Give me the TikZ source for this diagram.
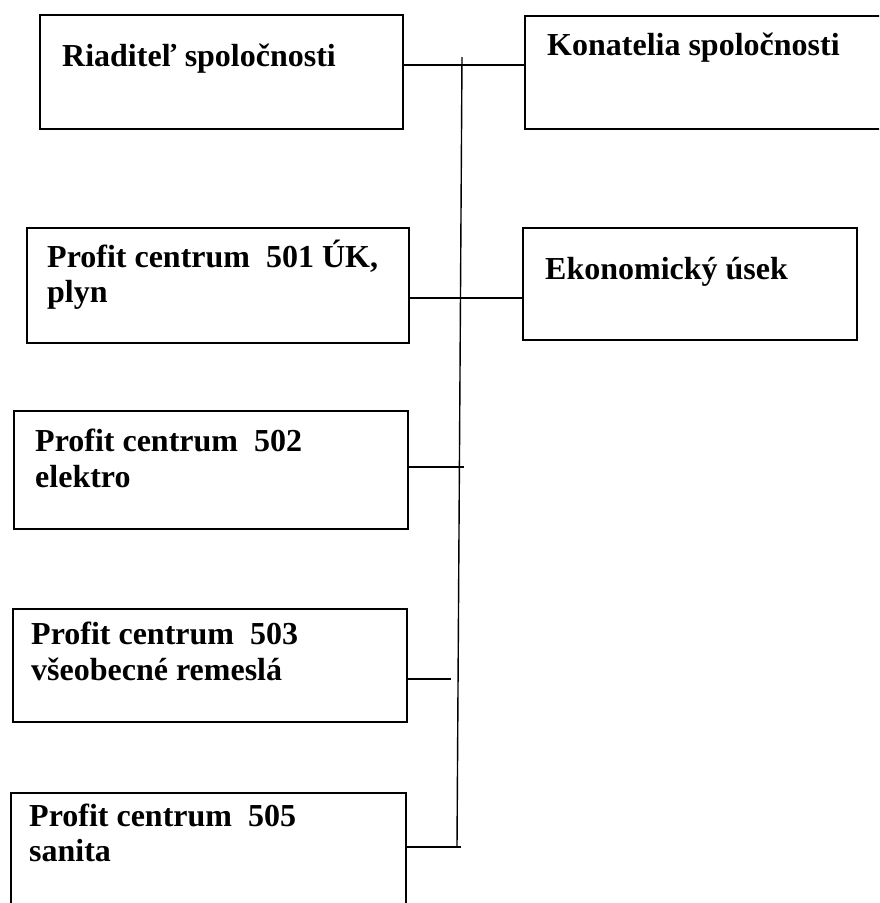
\documentclass[tikz,border=0pt]{standalone}
\usepackage{fontspec}
\setmainfont{Liberation Serif}
\begin{document}
\begin{tikzpicture}[x=1pt,y=-1pt]
\tikzset{
  box/.style={draw, line width=1.6pt, rectangle, inner sep=0pt, anchor=north west},
  lbl/.style={anchor=base west, inner sep=0pt, font=\bfseries\fontsize{32}{38}\selectfont},
  link/.style={line width=1.4pt}
}
\useasboundingbox (0,0) rectangle (879,903);
\clip (0,0) rectangle (879,903);
% boxes
\node[box, minimum width=363pt, minimum height=114pt] (r)  at (39,14)  {};
\node[box, minimum width=380pt, minimum height=113pt] (k)  at (524,15) {};
\node[box, minimum width=382pt, minimum height=115pt] (p1) at (26,227) {};
\node[box, minimum width=334pt, minimum height=112pt] (e)  at (522,227) {};
\node[box, minimum width=394pt, minimum height=118pt] (p2) at (13,410) {};
\node[box, minimum width=394pt, minimum height=113pt] (p3) at (12,608) {};
\node[box, minimum width=395pt, minimum height=140pt] (p5) at (10,792) {};
% texts
\node[lbl] (tr)  at (62,66)   {Riaditeľ spoločnosti};
\node[lbl] (tk)  at (547,55)  {Konatelia spoločnosti};
\node[lbl] (t1a) at (47,267)  {Profit centrum\ \ 501 ÚK,};
\node[lbl] (t1b) at (47,302)  {plyn};
\node[lbl] (te)  at (545,279) {Ekonomický úsek};
\node[lbl] (t2a) at (35,451)  {Profit centrum\ \ 502};
\node[lbl] (t2b) at (35,487)  {elektro};
\node[lbl] (t3a) at (31,644)  {Profit centrum\ \ 503};
\node[lbl] (t3b) at (31,680)  {všeobecné remeslá};
\node[lbl] (t5a) at (29,826)  {Profit centrum\ \ 505};
\node[lbl] (t5b) at (29,861)  {sanita};
% connector ends
\coordinate (vtop) at (462,57);
\coordinate (vbot) at (457,847);
\coordinate (e2) at (464,467);
\coordinate (e3) at (451,679);
\coordinate (e5) at (461,847);
% connectors
\draw[link] (vtop) -- (vbot);
\draw[link] (r.east |- 0,65) -- (k.west |- 0,65);
\draw[link] (p1.east |- 0,298) -- (e.west |- 0,298);
\draw[link] (p2.east |- e2) -- (e2);
\draw[link] (p3.east |- e3) -- (e3);
\draw[link] (p5.east |- e5) -- (e5);
\end{tikzpicture}
\end{document}
